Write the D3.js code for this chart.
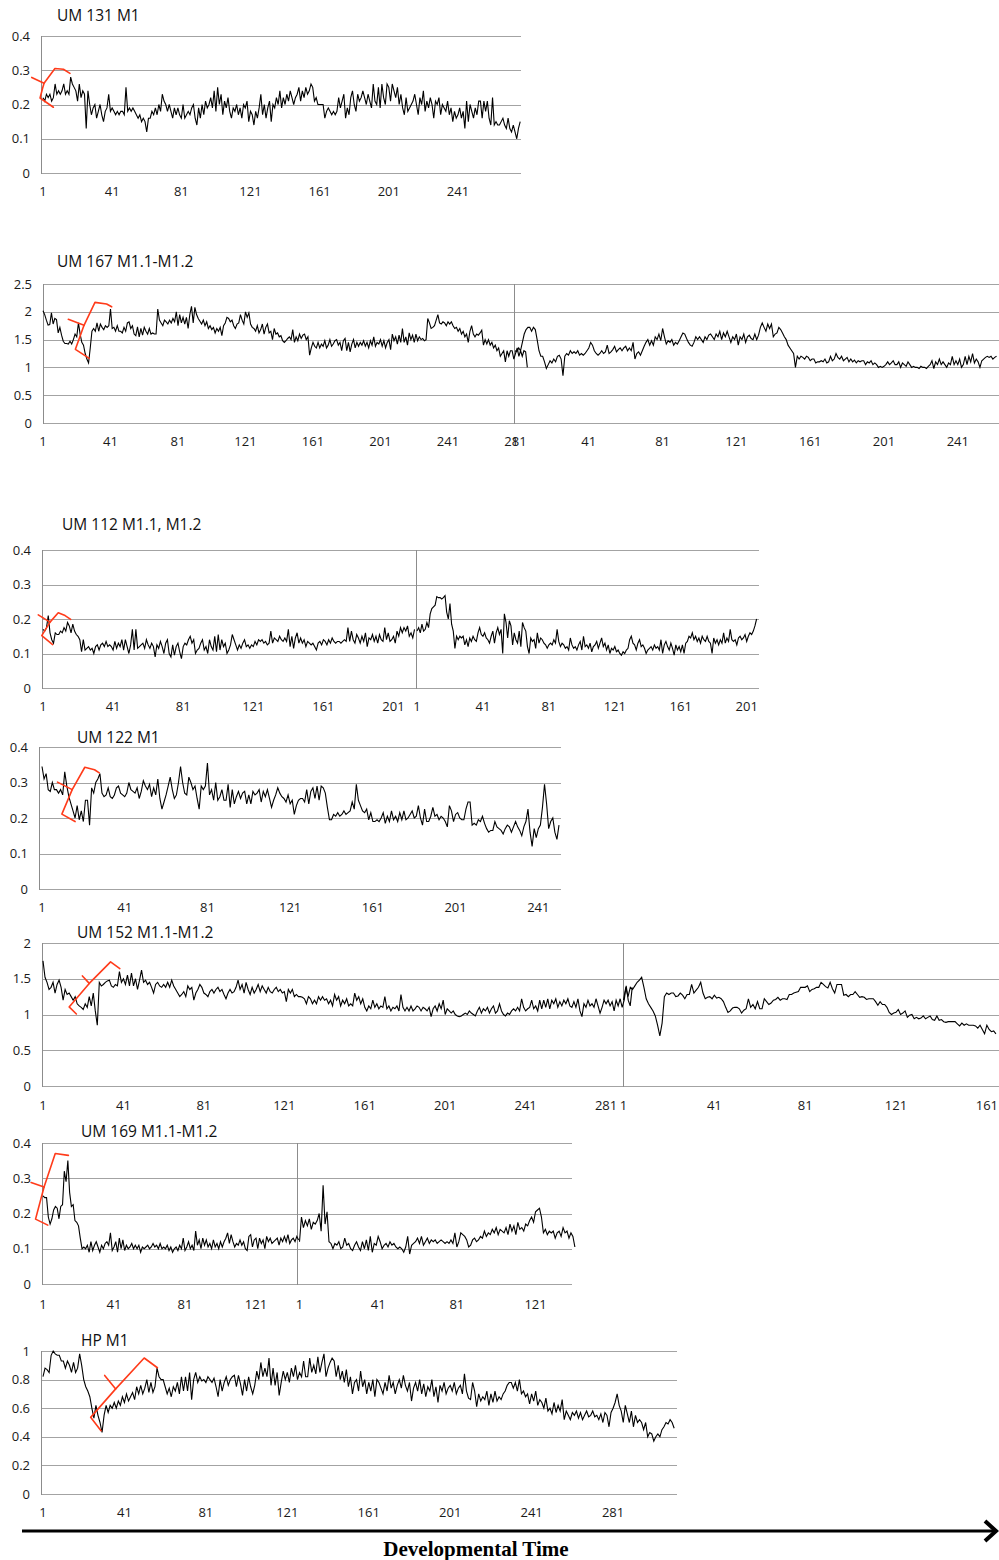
<!DOCTYPE html>
<html>
<head>
<meta charset="utf-8">
<script src="https://cdn.jsdelivr.net/npm/d3@7"></script>
<style>
  body { margin: 0; background: #fff; }
  svg { display: block; }
  .tick-label { font-family: 'Open Sans', sans-serif; font-size: 13px; fill: #1a1a1a; }
  .chart-title { font-family: 'Open Sans', sans-serif; font-size: 15.5px; fill: #111; }
  .dev-label { font-family: 'Liberation Serif', 'Times New Roman', serif; font-size: 21px; font-weight: bold; fill: #000; }
</style>
</head>
<body>
<svg id="chart_svg" width="999" height="1560"></svg>
<script>
// titles and tick labels
var titles = ['UM 131 M1', 'UM 167 M1.1-M1.2', 'UM 112 M1.1, M1.2', 'UM 122 M1',
  'UM 152 M1.1-M1.2', 'UM 169 M1.1-M1.2', 'HP M1'];
var ticks04 = [0, 0.1, 0.2, 0.3, 0.4];
var ticks25 = [0, 0.5, 1, 1.5, 2, 2.5];
var ticks20 = [0, 0.5, 1, 1.5, 2];
var ticks10 = [0, 0.2, 0.4, 0.6, 0.8, 1];
var labels121 = [1, 41, 81, 121];
var labels161 = [1, 41, 81, 121, 161];
var labels201 = [1, 41, 81, 121, 161, 201];
var labels241 = [1, 41, 81, 121, 161, 201, 241];
var labels281 = [1, 41, 81, 121, 161, 201, 241, 281];

// series values (um131, um167*, um152*, hp in hundredths; the rest in thousandths)
var um131 = [22,21,23,22,23,21,22,26,23,24,23,24,26,23,24,23,28,26,25,24,21,26,22,24,23,13,24,20,17,19,
20,16,18,20,17,15,18,19,23,18,19,18,17,18,17,18,18,17,25,18,19,18,19,18,17,16,17,15,16,15,
12,16,16,18,17,19,17,20,18,23,21,20,18,20,18,16,19,17,19,17,16,20,16,17,18,17,19,20,16,14,
19,16,20,17,21,19,20,22,19,24,18,25,20,23,17,21,19,22,18,16,19,18,20,17,19,16,20,19,21,15,
18,17,14,18,16,19,23,17,20,16,19,21,15,20,19,22,20,24,19,22,20,23,21,24,22,20,22,23,25,21,
24,22,25,23,24,26,25,21,22,20,20,20,20,16,18,19,18,17,18,17,18,22,19,21,23,16,19,17,22,24,
20,18,23,21,22,24,22,20,23,21,19,26,21,20,25,19,26,22,20,26,25,21,26,24,22,25,20,23,19,17,
22,18,19,20,21,23,20,17,22,20,24,18,21,19,22,20,16,21,20,22,17,20,19,18,21,17,19,15,18,16,
17,19,16,18,13,21,15,20,18,16,19,17,21,21,16,21,18,21,16,14,22,14,15,14,14,15,16,14,13,16,
13,12,14,12,10,13,15];

var um167a = [202,195,185,176,177,198,178,188,186,162,172,158,147,143,143,142,147,142,150,160,
155,180,160,145,140,125,115,108,135,165,170,165,180,165,178,172,168,175,172,175,
205,170,172,165,175,165,165,162,172,165,180,182,170,175,160,157,173,155,170,158,
172,165,160,170,160,162,160,160,205,185,180,175,185,182,178,185,180,188,182,200,
175,195,180,190,178,190,170,195,210,180,208,195,188,183,178,185,175,182,170,175,
168,172,162,170,165,172,157,175,180,190,188,182,185,175,170,178,180,195,185,178,
200,190,198,178,172,170,165,175,162,168,178,160,172,178,162,165,150,170,160,162,
155,157,148,145,148,152,155,150,168,145,155,148,160,152,158,160,150,155,122,135,
145,138,135,145,135,142,138,148,135,140,150,138,142,148,150,140,145,130,148,152,
130,145,128,142,150,135,145,138,145,140,148,138,145,135,148,140,155,138,145,142,
150,138,148,135,145,150,132,160,148,155,142,158,145,170,145,155,140,162,150,158,
145,160,148,155,150,152,148,150,188,180,170,172,175,185,195,180,178,182,180,175,
182,178,182,175,170,172,165,170,160,165,155,160,145,165,175,160,155,160,158,162,
167,140,150,142,150,140,145,135,140,130,135,120,125,130,110,130,120,130,130,115,
125,135,120,130,120,130,128,100];

var um167b = [130,128,135,130,145,160,168,172,172,165,172,168,150,130,120,120,110,98,
105,112,108,115,110,120,122,115,85,120,125,122,130,125,128,125,130,122,
125,122,125,130,135,145,140,130,125,122,125,130,125,128,140,125,128,132,
138,128,132,135,130,135,138,130,135,130,145,115,125,128,122,130,138,145,
150,140,148,140,155,150,160,148,170,155,142,148,145,150,140,145,142,148,
155,162,160,152,145,140,138,145,155,150,155,150,145,155,150,158,160,155,
150,160,155,165,150,162,155,165,155,145,155,150,160,140,155,150,160,145,
155,158,152,150,160,150,158,172,180,172,165,178,170,178,155,160,162,172,
168,162,155,150,140,135,130,125,100,120,115,120,118,115,120,118,112,115,
115,108,110,110,112,110,115,108,110,120,112,115,125,118,115,120,112,115,
118,110,115,110,113,108,112,110,112,112,105,110,108,112,105,108,105,100,
102,100,102,105,110,105,108,112,105,105,110,100,108,105,102,110,105,100,
102,100,100,98,102,100,100,98,102,105,112,98,110,105,115,105,110,105,
100,108,105,120,105,112,105,115,100,105,120,105,120,110,125,108,115,110,
100,112,115,118,120,118,120,115,118,120];

var um112a = [170,165,175,210,160,140,130,160,155,155,165,160,175,165,190,180,160,185,165,
155,150,140,105,140,110,115,120,110,115,100,120,125,110,125,130,120,135,120,
125,120,110,135,115,130,120,140,110,140,120,100,125,170,110,170,115,120,125,
130,115,140,125,115,130,120,90,125,115,135,120,100,130,140,100,90,125,95,
120,130,105,85,120,130,125,140,150,130,140,100,110,115,130,140,110,120,100,
140,120,110,150,105,155,110,140,120,130,100,110,125,155,140,125,110,125,115,
130,140,120,125,115,125,120,135,125,140,135,140,130,135,125,130,165,130,145,
140,135,150,140,135,145,135,170,120,150,115,145,160,130,145,130,140,120,135,
130,125,130,120,110,130,135,125,140,135,125,140,130,145,135,130,135,135,130,
135,140,135,175,135,165,140,130,155,145,130,150,135,160,120,145,140,155,135,
150,130,155,140,135,175,140,160,135,140,150,130,165,150,175,160,175,165,180,
150,160,145,170];

var um112b = [165,175,160,185,165,170,190,175,215,230,235,240,265,262,262,258,262,268,220,200,
245,185,165,115,150,140,150,145,150,125,140,120,145,135,150,140,135,160,175,155,
150,160,145,140,130,150,165,130,160,175,155,170,100,215,190,145,195,180,125,160,
140,130,165,120,190,175,165,120,100,145,135,140,115,160,130,145,140,130,125,115,
125,130,125,140,130,170,135,120,130,125,115,120,110,145,125,115,120,110,125,135,
110,150,120,125,115,130,105,120,125,135,115,130,145,120,130,110,125,100,115,110,
120,105,110,100,95,105,100,110,115,140,150,130,125,110,130,140,120,125,115,100,
110,115,120,110,125,115,120,110,140,100,125,135,120,110,130,115,95,125,110,120,
105,125,100,130,135,150,145,160,140,150,135,145,130,150,140,135,150,135,130,100,
145,130,140,125,140,130,160,130,145,135,170,140,135,140,125,145,150,140,145,155,
135,150,160,155,165,180,200];

var um122 = [345,310,325,280,275,300,280,280,270,280,265,330,290,260,240,220,200,235,195,220,190,
250,250,180,285,270,300,310,325,270,260,265,285,260,255,265,285,290,270,265,260,270,
300,280,275,270,285,255,275,305,290,280,295,260,285,265,310,255,225,245,265,290,315,
280,255,265,300,345,300,270,265,315,300,280,290,255,225,290,280,290,355,265,280,250,
300,250,260,280,250,250,295,230,280,240,260,275,255,270,275,240,265,240,275,265,270,
280,245,275,260,280,255,230,250,265,285,270,260,255,245,265,240,250,210,235,250,255,
255,245,280,240,275,285,255,290,250,290,285,270,230,195,195,210,205,215,205,210,220,
210,215,220,245,225,295,250,235,220,215,225,195,215,190,190,195,190,200,215,185,205,
190,220,195,205,190,215,195,220,195,200,210,220,200,205,235,200,180,225,190,190,205,230,
205,210,195,205,200,190,175,235,220,190,210,215,200,195,195,225,
245,245,180,185,180,195,190,205,185,170,160,165,165,190,175,170,165,155,170,180,175,160,
175,190,175,165,150,175,190,225,160,120,170,145,170,180,230,295,240,170,190,200,160,140,180];

var um152a = [175,152,145,135,138,145,130,142,148,138,120,135,128,130,125,120,125,115,112,110,
107,115,110,125,112,130,105,85,145,140,142,145,147,148,140,138,142,140,160,145,
150,142,155,140,158,140,150,135,148,162,145,148,142,145,138,130,142,145,140,138,
142,138,145,138,148,140,135,130,125,128,132,125,140,135,138,120,130,135,142,138,
130,128,125,132,135,130,135,138,132,135,128,122,130,135,130,132,138,148,135,142,
130,145,135,128,138,130,135,142,132,140,135,130,138,132,130,135,138,132,135,130,
132,118,135,130,135,125,128,125,125,124,122,115,125,122,115,120,115,125,120,125,
120,122,115,120,112,128,120,125,112,120,115,122,112,115,112,130,120,125,115,122,
110,105,112,108,120,110,115,108,112,110,125,108,112,105,110,108,112,105,128,110,
105,110,105,112,105,108,112,110,105,110,108,105,110,97,108,112,105,115,108,120,
100,108,105,102,105,100,98,97,98,100,102,100,105,102,100,98,105,110,102,108,
105,110,102,108,112,102,105,115,105,100,98,102,100,105,108,105,110,105,122,110,
105,108,110,120,108,112,105,120,108,120,110,122,108,120,115,122,110,118,112,120,
115,122,112,110,118,110,122,105,97,115,110,120,112,115,110,122,112,102,110,120,
115,120,112,118,105,120,112,122,110,120,140,120,112,138];

var um152b = [120,138,125,138,135,140,145,148,152,138,122,115,110,105,98,85,70,88,125,130,
128,130,130,125,126,130,127,122,128,128,142,130,134,138,145,130,122,124,125,122,
127,123,124,122,118,110,103,105,109,110,110,108,102,106,108,122,110,114,108,118,
108,108,122,118,114,116,120,121,124,120,122,122,121,128,128,130,131,132,138,138,
138,140,132,135,136,138,138,145,142,139,137,145,136,130,142,142,142,127,128,125,
128,128,132,128,124,125,124,121,122,122,122,118,113,118,114,114,110,103,100,102,
103,107,100,102,105,96,99,100,94,96,94,95,98,94,96,98,93,92,98,92,
93,90,89,90,90,90,90,87,84,88,85,87,85,85,85,84,81,85,79,73,
85,79,76,77,73];

var um169a = [250,245,245,190,170,185,210,220,215,185,220,225,320,290,350,260,220,225,180,175,
165,130,100,105,100,110,90,120,95,110,120,105,90,110,100,115,120,110,145,95,
105,120,90,130,100,125,95,110,100,105,115,100,110,100,110,90,105,100,105,110,
100,105,115,105,110,100,115,100,105,100,110,95,105,90,100,105,95,110,100,130,
95,105,120,100,110,95,150,110,125,100,130,110,125,105,115,100,125,105,115,100,
120,105,120,130,145,115,140,120,105,115,110,125,110,120,100,95,135,140,105,125,
130,100,130,115,125,100,135,120,130,115,120,125,130,110,130,120,135,120,140,115,
125,130,120,135,125];

var um169b = [120,190,160,180,165,185,155,175,170,180,200,150,280,170,205,120,115,100,115,110,
120,100,105,130,110,115,100,95,110,120,105,95,120,100,125,95,135,90,115,110,
135,120,100,110,115,105,120,110,115,105,100,105,100,90,105,135,85,110,115,120,
130,115,135,110,120,130,115,125,120,125,115,120,125,120,115,120,115,125,115,145,
105,120,145,140,135,125,105,110,125,130,120,125,135,130,150,135,145,140,155,145,
160,140,155,150,145,160,140,170,150,165,140,175,155,160,150,170,165,
180,190,175,205,210,215,190,145,155,140,150,145,150,130,145,150,135,160,145,150,130,145,135,105];

var hp = [82,88,87,85,97,100,98,97,97,93,93,88,93,90,85,92,85,88,98,90,
80,75,72,68,60,53,62,55,50,43,55,62,57,62,60,64,60,65,62,68,
64,70,65,68,71,66,75,70,76,70,74,80,71,78,71,75,88,82,80,80,
75,70,74,68,75,72,78,70,82,72,82,72,85,66,80,85,78,82,79,80,
78,82,80,78,81,75,68,80,72,78,82,76,80,82,83,75,83,77,69,80,
72,82,75,70,76,86,80,92,82,88,82,95,76,88,76,85,69,78,86,80,
85,78,88,82,90,80,85,82,93,82,82,95,85,90,84,96,85,92,98,82,
88,92,95,93,82,90,80,86,78,87,75,82,70,78,80,72,86,75,80,70,
78,72,80,68,80,78,74,70,78,72,83,74,78,70,76,80,74,83,76,72,
78,65,74,78,72,80,70,77,68,75,72,80,68,75,64,76,72,78,70,74,
76,72,78,70,74,76,70,84,72,67,66,78,72,61,70,65,68,66,72,62,
70,64,72,65,68,66,70,72,76,78,78,74,78,72,80,70,72,68,70,63,
70,65,72,62,66,64,60,67,58,60,56,64,57,62,58,66,52,58,55,52,
57,55,58,53,57,52,55,58,54,55,58,54,55,52,56,50,57,55,47,57,
60,64,70,62,58,50,62,56,50,58,47,55,50,52,50,45,50,40,43,42,
37,40,42,40,45,47,50,49,52,50,46];

// hand-drawn red marks, in [category, value] units of each panel
var tick131 = [[-5.5, .279], [1.6, .262]];
var brace131 = [[7, .192], [-0.7, .219], [0.8, .248], [1.6, .262], [7.9, .305], [12.8, .303], [16.6, .291]];
var tick167 = [[16, 1.865], [25.3, 1.757]];
var brace167 = [[28.4, 1.163], [20.2, 1.325], [25.3, 1.757], [31.8, 2.17], [38.7, 2.14], [41.7, 2.09]];
var tick112 = [[-1.7, .212], [5, .191]];
var brace112 = [[6.5, .126], [0.3, .152], [5, .191], [9.7, .218], [13.6, .21], [16.8, .199]];
var tick122 = [[8.5, .301], [15.6, .28]];
var brace122 = [[17, .19], [10.6, .211], [15.6, .28], [21.7, .343], [26.4, .336], [28.7, .327]];
var tick152 = [[20.6, 1.539], [24, 1.435]];
var brace152 = [[17.6, 1.007], [14, 1.106], [24, 1.435], [34.6, 1.736], [39.2, 1.642]];
var tick169 = [[-5.7, .288], [1.6, .275]];
var brace169 = [[3.7, .167], [-3.2, .184], [1.6, .275], [7.9, .37], [15.3, .365]];
var tickHp = [[31.3, .829], [36.7, .735]];
var braceHp = [[29.5, .443], [24.4, .536], [36.7, .735], [50.7, .951], [57.2, .883]];

var panels = [
  {title: titles[0], titleX: 57, titleY: 15, top: 36, bottom: 173, left: 41, right: 521, labelY: 191,
    max: 0.4, yTicks: ticks04, dividers: [], tick: tick131, brace: brace131,
    series: [{values: um131, unit: 100, x1: 43, step: 1.729, labels: labels241}]},
  {title: titles[1], titleX: 57, titleY: 261, top: 284, bottom: 423, left: 43, right: 999, labelY: 441,
    max: 2.5, yTicks: ticks25, dividers: [514], tick: tick167, brace: brace167,
    series: [{values: um167a, unit: 100, x1: 43, step: 1.6875, labels: labels281},
      {values: um167b, unit: 100, x1: 515, step: 1.845, labels: labels241}]},
  {title: titles[2], titleX: 62, titleY: 524, top: 550, bottom: 688, left: 42, right: 759, labelY: 706,
    max: 0.4, yTicks: ticks04, dividers: [416], tick: tick112, brace: brace112,
    series: [{values: um112a, unit: 1000, x1: 43, step: 1.7525, labels: labels201},
      {values: um112b, unit: 1000, x1: 417, step: 1.6485, labels: labels201}]},
  {title: titles[3], titleX: 77, titleY: 737, top: 747, bottom: 889, left: 39, right: 561, labelY: 907,
    max: 0.4, yTicks: ticks04, dividers: [], tick: tick122, brace: brace122,
    series: [{values: um122, unit: 1000, x1: 42, step: 2.068, labels: labels241}]},
  {title: titles[4], titleX: 77, titleY: 932, top: 943, bottom: 1086, left: 42, right: 999, labelY: 1105,
    max: 2, yTicks: ticks20, dividers: [623], tick: tick152, brace: brace152,
    series: [{values: um152a, unit: 100, x1: 43, step: 2.011, labels: labels281},
      {values: um152b, unit: 100, x1: 623.5, step: 2.271, labels: labels161}]},
  {title: titles[5], titleX: 81, titleY: 1131, top: 1143, bottom: 1284, left: 42, right: 572, labelY: 1304,
    max: 0.4, yTicks: ticks04, dividers: [297], tick: tick169, brace: brace169,
    series: [{values: um169a, unit: 1000, x1: 43, step: 1.775, labels: labels121},
      {values: um169b, unit: 1000, x1: 299.5, step: 1.967, labels: labels121}]},
  {title: titles[6], titleX: 81, titleY: 1340, top: 1351, bottom: 1494, left: 41, right: 677, labelY: 1512,
    max: 1, yTicks: ticks10, dividers: [], tick: tickHp, brace: braceHp,
    series: [{values: hp, unit: 100, x1: 43, step: 2.036, labels: labels281}]}
];

var svg = d3.select('#chart_svg');

var gridColor = '#a3a3a3',
  axisColor = '#8c8c8c',
  redInk = '#ff3b1a';

panels.forEach(function(p) {
  var g = svg.append('g').attr('class', 'panel');

  var y = d3.scaleLinear()
    .domain([0, p.max])
    .range([p.bottom, p.top]);

  // gridlines
  g.selectAll('.grid')
    .data(p.yTicks)
    .enter()
    .append('line')
    .attr('class', 'grid')
    .attr('x1', p.left)
    .attr('x2', p.right)
    .attr('y1', function(d) { return Math.round(y(d)) + 0.5; })
    .attr('y2', function(d) { return Math.round(y(d)) + 0.5; })
    .style('stroke', gridColor)
    .style('stroke-width', 1);

  // left axis and the seams between pasted charts
  g.selectAll('.vline')
    .data([p.left].concat(p.dividers))
    .enter()
    .append('line')
    .attr('class', 'vline')
    .attr('x1', function(d) { return Math.round(d) + 0.5; })
    .attr('x2', function(d) { return Math.round(d) + 0.5; })
    .attr('y1', Math.round(y(p.max)))
    .attr('y2', Math.round(y(0)) + 1)
    .style('stroke', axisColor)
    .style('stroke-width', 1);

  g.selectAll('.ylabel')
    .data(p.yTicks)
    .enter()
    .append('text')
    .attr('class', 'tick-label ylabel')
    .attr('x', p.left - 11)
    .attr('y', function(d) { return y(d); })
    .attr('dy', '0.36em')
    .style('text-anchor', 'end')
    .text(function(d) { return String(d); });

  g.append('text')
    .attr('class', 'chart-title')
    .attr('x', p.titleX)
    .attr('y', p.titleY)
    .attr('dy', '0.36em')
    .text(p.title);

  var firstX;

  p.series.forEach(function(s, si) {
    var x = d3.scaleLinear()
      .domain([1, 41])
      .range([s.x1, s.x1 + 40 * s.step]);
    if (si === 0) firstX = x;

    g.selectAll('.xlabel-' + si)
      .data(s.labels)
      .enter()
      .append('text')
      .attr('class', 'tick-label xlabel-' + si)
      .attr('x', function(d) { return x(d); })
      .attr('y', p.labelY)
      .attr('dy', '0.36em')
      .style('text-anchor', 'middle')
      .text(function(d) { return d; });

    var line = d3.line()
      .x(function(d, i) { return x(i + 1); })
      .y(function(d) { return y(d / s.unit); });

    g.append('path')
      .datum(s.values)
      .attr('d', line)
      .style('fill', 'none')
      .style('stroke', '#000')
      .style('stroke-width', 1.1)
      .style('stroke-linejoin', 'miter');
  });

  var redLine = d3.line()
    .x(function(d) { return firstX(d[0]); })
    .y(function(d) { return y(d[1]); });

  [p.tick, p.brace].forEach(function(shape) {
    g.append('path')
      .datum(shape)
      .attr('d', redLine)
      .style('fill', 'none')
      .style('stroke', redInk)
      .style('stroke-width', 1.6)
      .style('stroke-linecap', 'round')
      .style('stroke-linejoin', 'round');
  });
});

// time arrow across the bottom
var defs = svg.append('defs');
defs.append('filter')
  .attr('id', 'soft')
  .append('feGaussianBlur')
  .attr('stdDeviation', 1.5);

var arrow = svg.append('g');
arrow.append('line')
  .attr('x1', 22).attr('x2', 992)
  .attr('y1', 1534).attr('y2', 1534)
  .style('stroke', '#999')
  .style('stroke-width', 3)
  .attr('filter', 'url(#soft)');
arrow.append('line')
  .attr('x1', 22).attr('x2', 994)
  .attr('y1', 1531).attr('y2', 1531)
  .style('stroke', '#000')
  .style('stroke-width', 3);
arrow.append('path')
  .attr('d', 'M985,1521 L996,1531 L985,1541')
  .style('fill', 'none')
  .style('stroke', '#000')
  .style('stroke-width', 4);

svg.append('text')
  .attr('class', 'dev-label')
  .attr('x', 476)
  .attr('y', 1556)
  .style('text-anchor', 'middle')
  .text('Developmental Time');
</script>
</body>
</html>
